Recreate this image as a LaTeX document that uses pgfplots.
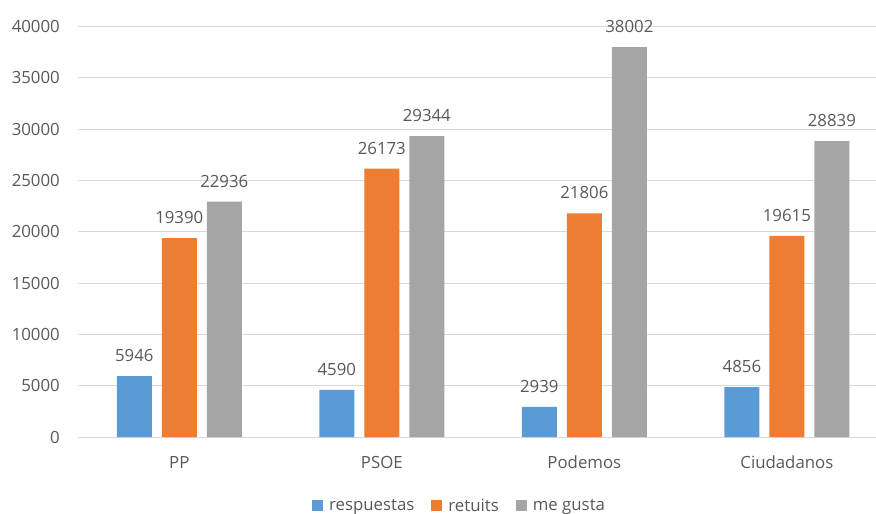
\documentclass[border=0pt]{standalone}
\usepackage{pgfplots}
\pgfplotsset{compat=1.18}
\usepackage{fontspec}
\setmainfont{Open Sans}
\definecolor{cBlue}{HTML}{5B9BD5}
\definecolor{cOrange}{HTML}{ED7D31}
\definecolor{cGray}{HTML}{A5A5A5}
\definecolor{cText}{HTML}{595959}
\definecolor{cGrid}{HTML}{D9D9D9}
\begin{document}
\begin{tikzpicture}
\begin{axis}[
  at={(0,0)}, anchor=south west,
  scale only axis,
  width=798bp, height=410.3bp,
  xmin=-0.5, xmax=3.44,
  ymin=0, ymax=40000,
  ytick={0,5000,...,40000},
  scaled y ticks=false,
  yticklabel={\pgfmathprintnumber[fixed,precision=0,1000 sep={}]{\tick}},
  xtick={0,1,2,3},
  xticklabels={PP,PSOE,Podemos,Ciudadanos},
  ymajorgrids,
  grid style={cGrid, line width=1bp},
  axis line style={draw=none},
  major tick length=0pt,
  tick style={draw=none},
  /pgf/number format/assume math mode=true,
  /pgf/number format/1000 sep={},
  font=\fontsize{16.8bp}{20bp}\selectfont\color{cText},
  yticklabel style={anchor=east, inner sep=0pt, xshift=-18bp},
  xticklabel style={anchor=north, inner sep=0pt, text height=12bp, text depth=0pt, yshift=-19.5bp},
  ybar=10bp,
  bar width=35bp,
  clip=false,
  nodes near coords,
  every node near coord/.append style={anchor=south, inner sep=0pt, yshift=14bp, color=cText, font=\fontsize{16.8bp}{20bp}\selectfont},
  legend columns=-1,
  legend style={at={(rel axis cs:0.2932,-0.168)}, anchor=west, draw=none, inner sep=0pt,
    /tikz/every odd column/.append style={column sep=4bp},
    /tikz/every even column/.append style={column sep=15bp},
    font=\fontsize{16.8bp}{20bp}\selectfont\color{cText}},
  legend image code/.code={\fill[#1] (0bp,-5.5bp) rectangle (11bp,5.5bp);},
]
\addplot[fill=cBlue, draw=none] coordinates {(0,5946) (1,4590) (2,2939) (3,4856)};
\addplot[fill=cOrange, draw=none] coordinates {(0,19390) (1,26173) (2,21806) (3,19615)};
\addplot[fill=cGray, draw=none] coordinates {(0,22936) (1,29344) (2,38002) (3,28839)};
\legend{respuestas, retuits, me gusta}
\end{axis}
\pgfresetboundingbox
\useasboundingbox (-78bp,-77bp) rectangle (798bp,437bp);
\end{tikzpicture}
\end{document}
